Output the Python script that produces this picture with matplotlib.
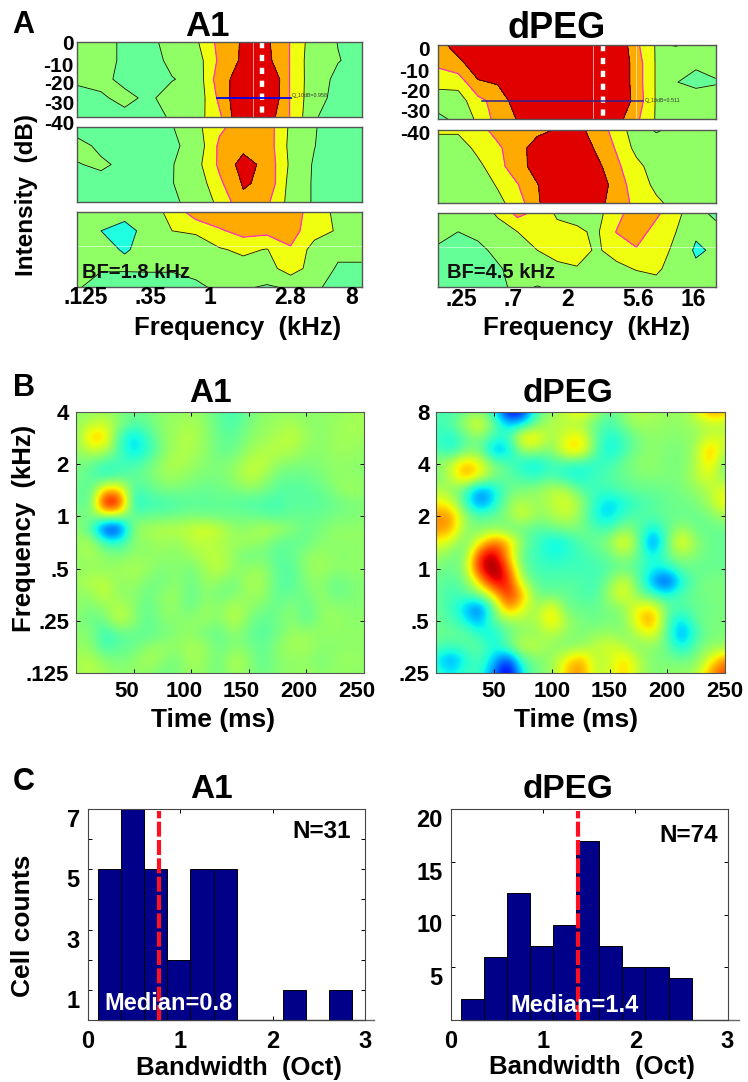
import numpy as np
import matplotlib
matplotlib.use('Agg')
import matplotlib.pyplot as plt
from matplotlib.transforms import ScaledTranslation

W, H = 748, 1082
plt.rcParams['font.family'] = ['Liberation Sans', 'DejaVu Sans']
plt.rcParams['font.weight'] = 'bold'

# panel A: tuning curves, one grid per sound level strip
a1_top = [[2.6, 2.4, 1.8, 1.7, 2.41, 2.83, 4.31, 5.13, 5.17, 3.95, 2.42, 1.98, 1.7],
          [2.6, 2.4, 1.8, 1.6, 2.23, 2.45, 4.2, 5.2, 5.28, 3.94, 2.3, 2.03, 1.8],
          [2.1, 2.2, 1.8, 1.7, 1.96, 2.23, 4.6, 5.5, 6.3, 3.9, 2.35, 1.83, 1.7],
          [1.8, 1.9, 2.2, 1.85, 2.33, 2.2, 4.25, 6.0, 6.2, 3.9, 2.3, 1.75, 1.7],
          [1.7, 1.8, 1.8, 1.7, 2.1, 2.5, 3.81, 6.1, 5.6, 3.93, 2.1, 1.5, 1.5]]
a1_mid = [[1.6, 1.5, 1.5, 1.5, 1.95, 2.7, 3.8, 4.5, 4.54, 2.8, 2.08, 1.4, 1.3],
          [2.3, 1.8, 1.5, 1.5, 1.85, 2.3, 4.2, 4.7, 4.57, 2.7, 2.03, 1.4, 1.3],
          [1.95, 2.15, 1.8, 1.5, 1.95, 2.6, 4.2, 5.4, 4.7, 2.8, 1.9, 1.4, 1.3],
          [1.7, 1.7, 1.5, 1.5, 1.98, 2.3, 3.8, 5.1, 4.8, 2.6, 1.9, 1.4, 1.3],
          [1.5, 1.5, 1.5, 1.5, 1.8, 2.4, 3.2, 4.8, 4.2, 2.6, 1.9, 1.4, 1.3]]
a1_low = [[2.3, 2.5, 2.3, 2.6, 3.25, 4.6, 4.9, 4.9, 4.9, 4.6, 3.45, 2.78, 2.4],
          [2.4, 2.3, 2.3, 2.4, 3.0, 3.1, 3.85, 4.4, 4.3, 4.4, 3.4, 2.9, 2.5],
          [2.5, 2.3, 2.3, 2.3, 2.5, 2.6, 2.9, 3.2, 2.95, 3.9, 2.6, 2.2, 2.2],
          [2.4, 2.1, 2.1, 2.1, 2.1, 2.15, 2.5, 2.6, 2.6, 3.5, 2.55, 1.9, 1.9],
          [2.1, 1.55, 1.5, 1.6, 1.6, 1.9, 2.1, 2.1, 1.9, 2.1, 2.1, 1.8, 1.8]]
a1_cyan = [[0, 0, 0, 0, 0, 0, 0, 0, 0, 0, 0, 0, 0],
           [0, .5, 1, 0, 0, 0, 0, 0, 0, 0, 0, 0, 0],
           [0, 0, .65, 0, 0, 0, 0, 0, 0, 0, 0, 0, 0],
           [0, 0, 0, 0, 0, 0, 0, 0, 0, 0, 0, 0, 0],
           [0, 0, 0, 0, 0, 0, 0, 0, 0, 0, 0, 0, 0]]

peg_top = [[4.6, 5.5, 6, 6, 6, 6, 6, 6, 6, 6, 4.2, 2.9, 3.05, 2.7, 2.6],
           [4.2, 4.7, 5.6, 6, 6, 6, 6, 6, 6, 6, 4.5, 2.9, 2.4, 2.1, 2.2],
           [3.37, 3.4, 4.9, 5.1, 6, 6, 6, 6, 6, 6, 4.5, 2.9, 2.02, 1.8, 1.95],
           [2.4, 2.5, 3.7, 4.4, 5.5, 6, 6, 6, 6, 6, 4.6, 2.9, 2.4, 2.4, 2.3],
           [1.8, 2.2, 3.2, 4.4, 5.05, 6, 6, 6, 6, 5.4, 4.2, 2.9, 2.4, 2.4, 2.3]]
peg_mid = [[3.2, 3.2, 3.6, 4.4, 4.5, 4.8, 5.05, 5.32, 4.53, 3.6, 2.4, 1.9, 2.2, 2.5, 2.5],
           [2.4, 2.4, 3.3, 3.8, 4.7, 5.35, 6, 6, 4.8, 3.9, 2.7, 2.5, 2.5, 2.5, 2.5],
           [2.4, 2.4, 2.7, 3.7, 4.5, 5.5, 6, 6, 5.3, 4.2, 3.3, 2.5, 2.4, 2.5, 2.5],
           [2.4, 2.4, 2.4, 3.1, 3.95, 4.95, 6, 6, 6, 4.3, 3.7, 2.7, 2.4, 2.5, 2.5],
           [2.4, 2.4, 2.4, 2.7, 3.5, 4.85, 5.9, 6, 5.5, 4.3, 3.85, 3.25, 2.6, 2.4, 2.4]]
peg_low = [[2.3, 2.4, 2.6, 3.1, 4.3, 3.7, 2.85, 2.7, 2.7, 3.6, 4.7, 4.2, 3.3, 2.3, 1.8],
           [2.4, 2.0, 2.2, 2.7, 3.0, 3.5, 3.3, 3.15, 2.85, 4.05, 4.5, 3.6, 3.0, 2.4, 2.3],
           [1.8, 1.6, 1.8, 2.2, 2.7, 3.0, 3.3, 3.3, 2.9, 3.3, 3.9, 3.6, 2.7, 2.4, 2.4],
           [1.7, 1.7, 1.8, 1.9, 2.3, 2.6, 2.8, 2.95, 2.6, 2.8, 3.05, 3.2, 2.5, 2.3, 2.4],
           [1.6, 1.6, 1.7, 1.8, 2.2, 1.95, 2.2, 2.4, 2.4, 2.4, 2.5, 2.6, 2.4, 2.4, 2.4]]
peg_cyan = [[0, 0, 0, 0, 0, 0, 0, 0, 0, 0, 0, 0, 0, 0, 0],
            [0, 0, 0, 0, 0, 0, 0, 0, 0, 0, 0, 0, 0, 0, 0],
            [0, 0, 0, 0, 0, 0, 0, 0, 0, 0, 0, 0, -2, 1, 0],
            [0, 0, 0, 0, 0, 0, 0, 0, 0, 0, 0, 0, 0, -.2, 0],
            [0, 0, 0, 0, 0, 0, 0, 0, 0, 0, 0, 0, 0, 0, 0]]

# panel B: receptive fields, percent of peak, rows from high to low frequency
strf_a1 = [[5, 5, 10, 0, -5, -2, 5, 5, 8, 3, -8, -15, -3, 5, 5, 5, 3, 5, 5, 8, 10],
           [5, 15, 20, 5, -10, -5, 5, 8, 12, 5, -8, -12, 0, 5, 8, 12, 5, 3, 8, 10, 10],
           [0, 42, 42, -15, -35, -15, 3, 10, 15, 5, -5, -8, 3, 8, 12, 18, 8, 3, 8, 10, 8],
           [3, 20, 15, -10, -35, -20, 0, 12, 12, 5, -5, -5, 8, 12, 15, 12, 5, 3, 8, 8, 5],
           [0, -5, -15, -15, -15, -5, 8, 15, 8, 3, 0, 5, 15, 18, 5, 3, 0, 3, 5, 5, 3],
           [0, -8, -22, -12, -5, -3, 8, 8, 3, 0, 0, 5, 18, 10, -3, -5, -5, 0, 5, 5, 3],
           [-3, -12, 40, 40, -15, -8, 0, 0, -3, -5, -3, 0, 5, 0, -8, -10, -8, -5, 3, 10, 5],
           [0, -15, 95, 88, -28, -15, -15, -12, -8, -10, -5, -10, -12, -12, -15, -6, -10, -8, -5, 0, 0],
           [0, 0, 15, 10, -8, -5, -5, -3, 0, -3, -5, -3, -3, -8, -10, -6, -5, -5, 0, 0, 3],
           [5, -8, -75, -75, 8, 10, 15, 15, 18, 25, 18, 5, 5, 15, 10, 5, -5, 0, 5, 5, 5],
           [5, 15, -15, -20, 3, 5, 10, 5, 15, 15, 12, 8, 10, 5, -5, -8, -5, 3, 5, 5, 5],
           [5, 12, 5, 0, 5, 5, 5, 3, 8, 15, 15, 5, -5, 0, -10, -5, 5, 8, 3, 3, 5],
           [5, 5, 5, 8, 12, 8, 0, 5, -3, 10, 18, 5, 5, 8, -8, -10, 5, 10, 5, 5, 5],
           [8, 15, 15, 5, 8, 0, -3, 5, -5, 8, 5, -3, 12, 10, -8, -10, 3, 5, -5, 0, 3],
           [5, 5, 20, 3, 5, -5, 5, 8, -8, 5, -3, 0, 8, 8, -8, -5, -3, 8, -5, 0, 3],
           [5, 0, 5, 15, 5, -8, 5, 5, -5, 8, 3, 15, 5, 0, -5, 5, -8, 5, 5, 3, 3],
           [3, -5, -3, 20, 5, -8, 3, 3, 5, 8, 0, 18, 0, -8, -3, 5, -8, 5, 8, 3, 5],
           [3, 5, -20, -8, -5, -8, -3, 3, 5, -3, -5, 5, -5, -10, -3, 8, 8, 5, 5, 5, 5],
           [5, 5, -15, -8, -5, 5, 8, 5, 12, 8, -5, 3, 0, -8, 5, 10, 10, 3, 3, 5, 5],
           [10, 15, 3, 0, 3, 12, 5, -3, 12, 5, -3, 15, 5, -8, 3, 5, 5, 0, 5, 8, 5],
           [8, 15, 8, 3, 5, 5, -3, 0, 8, 5, -3, 10, 3, -5, 3, 5, 8, 3, 5, 5, 5]]
strf_peg = [[-10, -15, -5, 5, -20, -85, -75, -10, 5, 20, 35, 15, -10, 5, 15, 10, 8, 5, 20, 55, 45],
            [-15, -10, 10, 30, -5, -35, -30, 0, 15, 12, 10, -5, -15, 0, 10, 8, 5, 5, 10, 15, 10],
            [-15, -25, -8, 5, -15, -20, 40, 35, 5, 25, 35, -5, -25, -15, 0, 5, 3, 3, 5, 20, 20],
            [-10, -25, -5, 0, -45, -35, 10, 8, 0, 35, 40, -5, -30, -15, 0, 5, 0, 0, 10, 50, 10],
            [5, 15, 45, 30, 0, -10, -25, -30, -15, -15, -20, -20, -15, -3, 5, 5, 0, 0, 10, 40, -5],
            [-5, 15, 50, 30, 0, -5, -15, -20, -10, -25, -25, -15, -10, -5, 0, 3, 0, 0, 15, 25, 0],
            [15, 5, -10, -50, -30, -5, 0, 5, 15, 15, -10, -15, -15, -8, -5, -5, -3, 0, 5, 15, 25],
            [30, 25, -15, -55, -30, 5, 15, 5, 15, 25, 10, -20, -35, -25, -15, -10, -5, -3, 0, 10, 35],
            [50, 55, 5, -10, -5, 5, 25, 5, 10, 20, 5, -25, -35, -15, -10, -8, -5, -5, -5, 0, 10],
            [50, 50, 5, 0, 5, -5, -5, -10, -5, 0, 0, -10, -15, 5, -5, -30, -8, 10, -5, -5, -5],
            [30, 20, -5, 25, 60, 45, 0, -15, -30, -25, -10, -5, 5, 35, 0, -60, -5, 35, 5, -5, -5],
            [10, 0, -5, 75, 95, 40, -10, -15, -25, -20, -15, -10, -5, 10, -5, -30, -5, 10, 0, -5, -5],
            [0, -5, 5, 80, 105, 65, -5, -15, -15, -15, -15, -15, -10, -5, -10, -25, -25, -5, -5, -5, -5],
            [-5, -10, -5, 40, 90, 80, 10, -10, -10, -10, -10, -15, 0, 25, -5, -45, -70, -25, -5, 0, 0],
            [-5, -15, -10, 0, 35, 80, 45, -5, -5, -5, -10, -15, 10, 30, 0, -15, -25, -10, -3, 0, 0],
            [-5, -15, -35, -60, -5, 60, 25, 5, 35, -5, -5, -5, 0, 5, 30, 35, -5, -10, -5, -3, 0],
            [-5, -10, -25, -45, -5, 5, 10, 10, 40, 10, 0, -5, 0, 0, 35, 55, -10, -35, -5, 0, 0],
            [-3, -5, -5, -20, -30, -5, 5, 5, 15, 5, 0, 5, 8, 0, 15, 30, -10, -50, -15, 0, 0],
            [-10, -15, -10, -5, -25, -5, 20, 15, 5, 0, 5, 15, 25, 15, 0, 5, -5, -30, -5, 5, 5],
            [-25, -50, -25, -10, -35, -70, -10, 0, 5, 30, 50, 15, 15, 40, 15, 0, 0, -3, 0, 25, 55],
            [-15, -30, -15, -15, -50, -90, -25, 0, 5, 40, 55, 15, 20, 40, 15, 0, 5, 5, 10, 50, 70]]

# panel C: bandwidth histograms
bin_edges = [0.11, 0.36, 0.61, 0.86, 1.11, 1.36, 1.61, 1.86, 2.11, 2.36, 2.61]
counts_a1 = [5, 7, 5, 2, 5, 5, 0, 0, 1, 0, 1]
counts_peg = [2, 6, 12, 7, 9, 17, 7, 5, 5, 4, 0]
median_a1, median_peg = 0.77, 1.38

level_edges = [0, 2, 3, 4, 5, 9]
level_colors = ['#64ff96', '#90ff66', '#f0ff10', '#ffaa00', '#e00000']

fig = plt.figure(figsize=(W / 100, H / 100), dpi=100)


def add_ax(x0, y0, x1, y1):
    return fig.add_axes([x0 / W, 1 - y1 / H, (x1 - x0) / W, (y1 - y0) / H])


def label(x, y, s, size, **kw):
    kw.setdefault('ha', 'center')
    kw.setdefault('va', 'center')
    fig.text(x / W, 1 - y / H, s, fontsize=size, fontweight='bold', **kw)


def strip(x0, y0, x1, y1, z, cyan=None):
    ax = add_ax(x0, y0, x1, y1)
    z = np.array(z)
    xs = np.arange(z.shape[1])
    ys = np.arange(z.shape[0])
    ax.contourf(xs, ys, z, levels=level_edges, colors=level_colors)
    ax.contour(xs, ys, z, levels=[2, 3, 5], colors='#101010', linewidths=0.6)
    ax.contour(xs, ys, z, levels=[4], colors='#ff30c8', linewidths=0.9)
    if cyan is not None:
        ax.contourf(xs, ys, np.array(cyan), levels=[0.5, 2], colors='#20ffe0')
        ax.contour(xs, ys, np.array(cyan), levels=[0.5], colors='#101010', linewidths=0.6)
    ax.set_xlim(0, z.shape[1] - 1)
    ax.set_ylim(4, 0)
    ax.set_xticks([])
    ax.set_yticks([])
    for s in ax.spines.values():
        s.set_color('#555555')
        s.set_linewidth(1)
    return ax


# panel A, A1
top = strip(77.3, 41.7, 361.7, 116.7, a1_top)
strip(77.3, 127, 361.7, 202, a1_mid)
low = strip(77.3, 212, 361.7, 287.3, a1_low, a1_cyan)
top.axvline(7.4, color='white', lw=0.7, alpha=0.6)
top.plot([7.8, 7.8], [0, 4], color='white', lw=3.2, ls=(0, (1.4, 1.5)))
top.plot([5.9, 9.0], [3, 3], color='#0000f0', lw=1.3)
top.text(9.03, 3, 'Q_10dB=0.958', fontsize=3.8, fontweight='normal', va='bottom', color='#333333')
low.axhline(1.8, color='white', lw=0.7, alpha=0.5)

# panel A, dPEG
top = strip(438.3, 45, 715.7, 119.3, peg_top)
strip(438.3, 129.7, 715.7, 203.3, peg_mid)
low = strip(438.3, 213.3, 715.7, 287.3, peg_low, peg_cyan)
top.axvline(7.8, color='white', lw=0.7, alpha=0.6)
top.axvline(10.0, color='white', lw=0.7, alpha=0.6)
top.plot([8.32, 8.32], [0, 4], color='white', lw=3.2, ls=(0, (1.4, 1.5)))
top.plot([2.2, 10.35], [3, 3], color='#302090', lw=1.1)
top.text(10.4, 3, 'Q_10dB=0.511', fontsize=3.8, fontweight='normal', va='center', color='#333333')
low.axhline(1.8, color='white', lw=0.7, alpha=0.5)

label(23, 25, 'A', 22)
label(207, 26, 'A1', 25)
label(557, 28, 'dPEG', 26)
for y, s in zip([45, 67, 85, 105, 124], ['0', '-10', '-20', '-30', '-40']):
    label(74, y, s, 15, ha='right')
for y, s in zip([51, 72, 92, 113, 134], ['0', '-10', '-20', '-30', '-40']):
    label(430, y, s, 15, ha='right')
for x, s in zip([86, 150, 210, 290, 352], ['.125', '.35', '1', '2.8', '8']):
    label(x, 298, s, 16.5)
for x, s in zip([461, 513, 568, 638, 693], ['.25', '.7', '2', '5.6', '16']):
    label(x, 300, s, 16.5)
label(27, 195, 'Intensity  (dB)', 17.5, rotation=90)
label(238, 328, 'Frequency  (kHz)', 18.5)
label(587, 328, 'Frequency  (kHz)', 18.5)
label(82, 273, 'BF=1.8 kHz', 14.5, ha='left', color='#101010')
label(447, 273, 'BF=4.5 kHz', 14.5, ha='left', color='#101010')


def shift_xlabels(ax, px):
    for t in ax.get_xticklabels():
        t.set_transform(t.get_transform() + ScaledTranslation(px / 100, 0, fig.dpi_scale_trans))


def strf(x0, x1, data, ylabels, xshift):
    ax = add_ax(x0, 412, x1, 673)
    ax.imshow(np.array(data) / 100, cmap='jet', vmin=-1, vmax=1, aspect='auto',
              interpolation='bicubic', extent=(-6.25, 256.25, -0.125, 5.125))
    ax.set_xlim(0, 250)
    ax.set_ylim(0, 5)
    ax.set_xticks([50, 100, 150, 200, 250])
    ax.set_yticks(range(6))
    ax.set_yticklabels(ylabels)
    ax.tick_params(direction='in', length=3, width=0.7, labelsize=16, pad=6, top=True, right=True)
    ax.tick_params(axis='y', pad=5)
    shift_xlabels(ax, xshift)
    for s in ax.spines.values():
        s.set_color('#555555')
        s.set_linewidth(0.8)
    return ax


# panel B
strf(76, 363.5, strf_a1, ['.125', '.25', '.5', '1', '2', '4'], -7)
strf(436.5, 725, strf_peg, ['.25', '.5', '1', '2', '4', '8'], 0)
label(24, 388, 'B', 22)
label(210, 393, 'A1', 24)
label(568, 393, 'dPEG', 24)
label(24, 528, 'Frequency  (kHz)', 18.5, rotation=90)
label(213, 720, 'Time (ms)', 19)
label(576, 720, 'Time (ms)', 19)


def hist(x0, x1, counts, ymax, yticks, ylabels, minor, median, base_end):
    ax = add_ax(x0, 809, x1, 1020)
    ax.plot([bin_edges[0], base_end], [0, 0], color='#666666', lw=1, clip_on=False, zorder=1)
    ax.bar(bin_edges, counts, width=0.25, align='edge', color='#000088',
           edgecolor='#000000', linewidth=0.7, zorder=2)
    ax.plot([median, median], [0, ymax * 0.99], color='#ff1020', lw=3,
            ls=(0, (3.6, 0.8)), zorder=3)
    ax.set_xlim(0, 3)
    ax.set_ylim(0, ymax)
    ax.set_xticks([0, 1, 2, 3])
    ax.set_yticks(yticks)
    ax.set_yticklabels(ylabels)
    ax.set_yticks(minor, minor=True)
    ax.tick_params(which='both', direction='in', length=3, width=0.7, top=True, right=True)
    ax.tick_params(axis='x', labelsize=17, pad=7)
    ax.tick_params(axis='y', labelsize=17, pad=6)
    for t in ax.get_yticklabels():
        t.set_va('top')
    for s in ax.spines.values():
        s.set_color('#444444')
        s.set_linewidth(0.8)
    return ax


# panel C
hist(88, 365, counts_a1, 7, [1, 3, 5, 7], ['1', '3', '5', '7'], [2, 4, 6], median_a1, 3.1)
hist(451, 727.5, counts_peg, 20, [5, 10, 15, 20], ['5', '10', '15', '20'], [], median_peg, 3.12)
label(24, 782, 'C', 22)
label(211, 790, 'A1', 24)
label(568, 790, 'dPEG', 24)
label(23, 926, 'Cell counts', 19, rotation=90)
label(239, 1068, 'Bandwidth  (Oct)', 18.5)
label(592, 1067, 'Bandwidth  (Oct)', 18.5)
label(322, 832, 'N=31', 17.5)
label(689, 836, 'N=74', 17.5)
label(168, 1003, 'Median=0.8', 17, color='white')
label(575, 1005, 'Median=1.4', 17, color='white')

fig.savefig('out.png', dpi=100)
